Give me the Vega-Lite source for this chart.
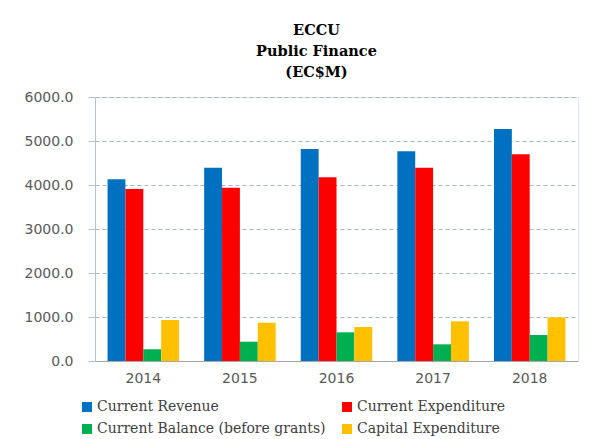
{
  "$schema": "https://vega.github.io/schema/vega-lite/v6.json",
  "width": 483,
  "height": 264,
  "autosize": {"type": "none"},
  "padding": {"left": 95, "top": 97, "right": 25, "bottom": 78},
  "background": "white",
  "title": {
    "text": ["ECCU", "Public Finance", "(EC$M)"],
    "font": "DejaVu Serif",
    "fontSize": 14.5,
    "fontWeight": "bold",
    "color": "#000000",
    "lineHeight": 21,
    "anchor": "middle",
    "dx": -20,
    "offset": 10
  },
  "data": {
    "values": [
      {"year": "2014", "series": "Current Revenue", "value": 4130},
      {"year": "2014", "series": "Current Expenditure", "value": 3909},
      {"year": "2014", "series": "Current Balance (before grants)", "value": 266},
      {"year": "2014", "series": "Capital Expenditure", "value": 932},
      {"year": "2015", "series": "Current Revenue", "value": 4393},
      {"year": "2015", "series": "Current Expenditure", "value": 3939},
      {"year": "2015", "series": "Current Balance (before grants)", "value": 439},
      {"year": "2015", "series": "Capital Expenditure", "value": 870},
      {"year": "2016", "series": "Current Revenue", "value": 4818},
      {"year": "2016", "series": "Current Expenditure", "value": 4174},
      {"year": "2016", "series": "Current Balance (before grants)", "value": 652},
      {"year": "2016", "series": "Capital Expenditure", "value": 773},
      {"year": "2017", "series": "Current Revenue", "value": 4765},
      {"year": "2017", "series": "Current Expenditure", "value": 4393},
      {"year": "2017", "series": "Current Balance (before grants)", "value": 379},
      {"year": "2017", "series": "Capital Expenditure", "value": 902},
      {"year": "2018", "series": "Current Revenue", "value": 5273},
      {"year": "2018", "series": "Current Expenditure", "value": 4697},
      {"year": "2018", "series": "Current Balance (before grants)", "value": 591},
      {"year": "2018", "series": "Capital Expenditure", "value": 993}
    ]
  },
  "mark": {"type": "bar"},
  "encoding": {
    "x": {
      "field": "year",
      "type": "nominal",
      "scale": {"paddingInner": 0.26, "paddingOuter": 0.13},
      "axis": {
        "title": null,
        "labelAngle": 0,
        "labelFont": "DejaVu Sans",
        "labelFontSize": 14,
        "labelColor": "#595959",
        "labelPadding": 10,
        "ticks": false,
        "domainColor": "#a6a6a6",
        "domainWidth": 1,
        "grid": false
      }
    },
    "xOffset": {
      "field": "series",
      "type": "nominal",
      "sort": ["Current Revenue", "Current Expenditure", "Current Balance (before grants)", "Capital Expenditure"],
      "scale": {"paddingInner": 0, "paddingOuter": 0}
    },
    "y": {
      "field": "value",
      "type": "quantitative",
      "scale": {"domain": [0, 6000], "nice": false},
      "axis": {
        "title": null,
        "values": [0, 1000, 2000, 3000, 4000, 5000, 6000],
        "format": ".1f",
        "labelFont": "DejaVu Sans",
        "labelFontSize": 14,
        "labelColor": "#595959",
        "labelPadding": 15,
        "tickSize": 7,
        "tickColor": "#b4c0d4",
        "domainColor": "#b4c0d4",
        "gridColor": "#a6b2c8",
        "gridDash": [4, 3],
        "gridWidth": 1
      }
    },
    "color": {
      "field": "series",
      "type": "nominal",
      "scale": {
        "domain": ["Current Revenue", "Current Expenditure", "Current Balance (before grants)", "Capital Expenditure"],
        "range": ["#0070C0", "#FF0000", "#00B050", "#FFC000"]
      },
      "legend": {
        "title": null,
        "orient": "none",
        "direction": "horizontal",
        "legendX": -15,
        "legendY": 303,
        "columns": 2,
        "columnPadding": 14,
        "rowPadding": 8,
        "symbolType": "square",
        "symbolSize": 100,
        "symbolStrokeWidth": 0,
        "symbolOpacity": 1,
        "labelFont": "DejaVu Serif",
        "labelFontSize": 14,
        "labelColor": "#404040",
        "labelOffset": 3,
        "labelLimit": 400
      }
    }
  },
  "config": {
    "view": {"stroke": "#dbe3ee", "strokeWidth": 1}
  }
}
